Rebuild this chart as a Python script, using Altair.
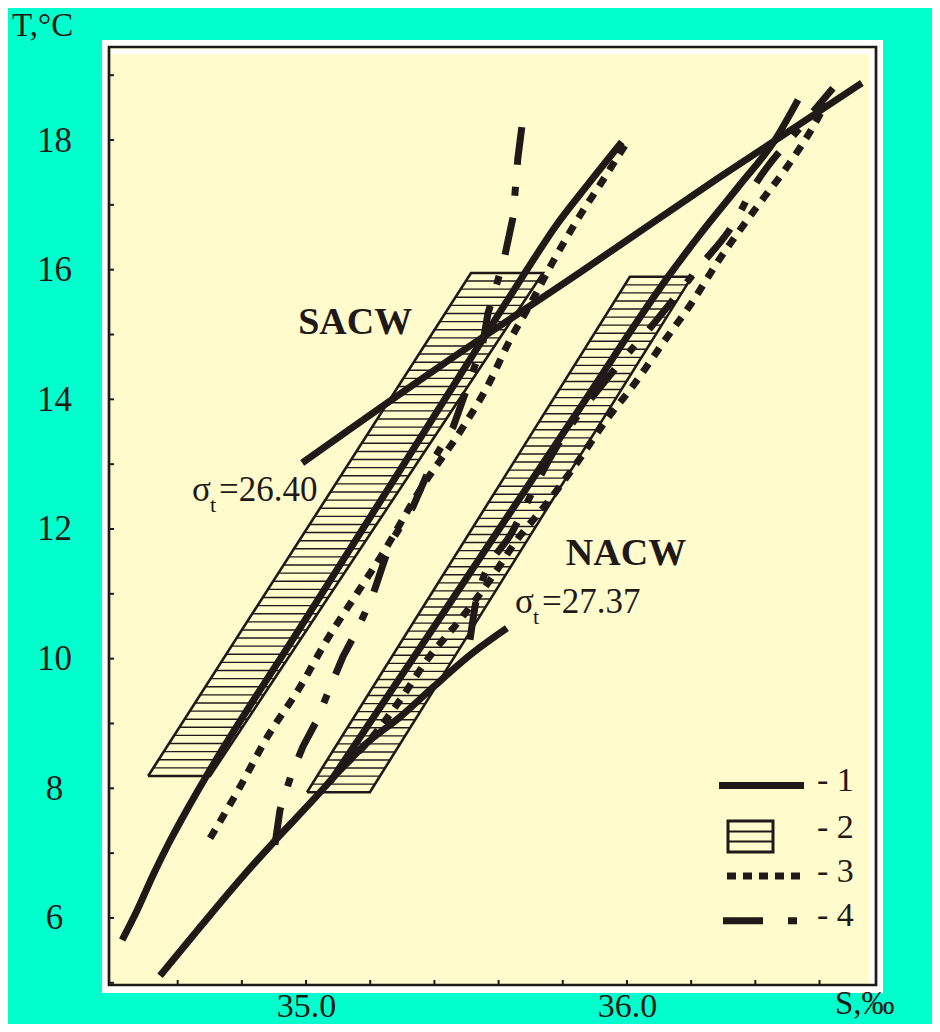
import altair as alt
import numpy as np
import pandas as pd

INK = "#1f1a17"
FONT = "Liberation Serif"
TEAL = "#00FFCC"
YELLOW = "#FFFBCC"

# ---------------- axes ----------------
S_DOMAIN = [34.386, 36.776]
T_DOMAIN = [4.966, 19.435]
S_TICKS = [34.6, 34.8, 35.0, 35.2, 35.4, 35.6, 35.8, 36.0, 36.2, 36.4, 36.6]
S_LABELS = [35.0, 36.0]
T_TICKS = [5, 6, 7, 8, 9, 10, 11, 12, 13, 14, 15, 16, 17, 18, 19]
T_LABELS = [6, 8, 10, 12, 14, 16, 18]

# ---------------- curves (S, T) ----------------
# 1 - solid T-S curves
sacw1_S = [34.427, 34.470, 34.526, 34.573, 34.629, 34.692, 34.981, 35.293, 35.551, 35.682, 35.776, 35.879, 35.984]
sacw1_T = [5.66, 6.08, 6.69, 7.16, 7.67, 8.21, 10.47, 12.91, 14.93, 15.95, 16.66, 17.32, 17.97]
nacw1_S = [35.075, 35.330, 35.579, 35.850, 36.128, 36.227, 36.352, 36.461, 36.533]
nacw1_T = [8.10, 9.98, 11.83, 13.84, 15.89, 16.54, 17.31, 18.00, 18.62]
# isopycnals
iso2640_S = [34.988, 35.417, 35.854, 36.290, 36.732]
iso2640_T = [13.02, 14.51, 15.96, 17.43, 18.88]
iso2737_S = [34.545, 34.670, 34.794, 34.897, 35.022, 35.106, 35.190, 35.293, 35.396, 35.520, 35.626]
iso2737_T = [5.11, 5.86, 6.59, 7.16, 7.82, 8.28, 8.70, 9.10, 9.56, 10.09, 10.47]
# 3 - dotted
sacw3_S = [34.701, 34.794, 34.879, 34.981, 35.065, 35.159, 35.240, 35.355, 35.489, 35.564, 35.636, 35.698, 35.769, 35.854, 35.916, 35.994]
sacw3_T = [7.23, 8.02, 8.79, 9.56, 10.29, 11.01, 11.63, 12.60, 13.57, 14.19, 14.92, 15.46, 16.12, 16.84, 17.31, 17.92]
nacw3_S = [35.121, 35.199, 35.293, 35.377, 35.480, 35.573, 35.657, 35.751, 35.844, 35.931, 36.025, 36.112, 36.202, 36.280, 36.414, 36.498, 36.592, 36.620]
nacw3_T = [8.36, 8.75, 9.36, 9.98, 10.60, 11.21, 11.83, 12.40, 13.02, 13.65, 14.25, 14.87, 15.49, 16.10, 17.03, 17.58, 18.31, 18.57]
# 4 - dash-dot
sacw4_S = [34.903, 34.919, 34.956, 34.991, 35.034, 35.075, 35.115, 35.159, 35.206, 35.262, 35.333, 35.396, 35.458, 35.511, 35.551, 35.567, 35.595, 35.620, 35.645, 35.660, 35.676]
sacw4_T = [7.13, 7.67, 8.24, 8.65, 9.05, 9.56, 10.03, 10.44, 10.95, 11.78, 12.34, 13.06, 13.57, 14.30, 14.87, 15.33, 15.79, 16.23, 16.81, 17.72, 18.34]
nacw4_S = [35.511, 35.533, 35.645, 35.769, 35.953, 36.087, 36.218, 36.336, 36.393, 36.539, 36.642]
nacw4_T = [10.29, 10.95, 11.98, 13.17, 14.41, 15.19, 16.00, 16.74, 17.26, 18.19, 18.80]

# 2 - hatched water-mass bands (parallelograms)
band_names = ["SACW", "NACW"]
band_T_bottom = [8.19, 7.94]
band_T_top = [15.95, 15.89]
band_S_bottom_left = [34.508, 35.003]
band_S_bottom_right = [34.701, 35.199]
band_S_top_left = [35.514, 36.009]
band_S_top_right = [35.738, 36.202]
HATCH_STEP = 0.125

# labels
mass_labels = ["SACW", "NACW"]
mass_label_S = [35.153, 35.997]
mass_label_T = [15.01, 11.45]
sigma_values = ["=26.40", "=27.37"]
sigma_S = [34.645, 35.651]
sigma_T = [12.43, 10.70]

legend_labels = ["- 1", "- 2", "- 3", "- 4"]

W, H = 767, 938

xs = alt.Scale(domain=S_DOMAIN, nice=False, zero=False)
ys = alt.Scale(domain=T_DOMAIN, nice=False, zero=False)
xaxis = alt.Axis(values=S_LABELS, format=".1f", domain=False, ticks=False, tickSize=0, grid=False,
                 labelFont=FONT, labelFontSize=34, labelColor=INK, labelPadding=31,
                 labelBaseline="alphabetic", labelFlush=False)
yaxis = alt.Axis(values=T_LABELS, format="d", domain=False, ticks=False, tickSize=0, grid=False,
                 labelFont=FONT, labelFontSize=35, labelColor=INK, labelPadding=55,
                 labelAlign="center", labelBaseline="middle")


def X(field="S"):
    return alt.X(f"{field}:Q", scale=xs, axis=xaxis, title=None)


def Y(field="T"):
    return alt.Y(f"{field}:Q", scale=ys, axis=yaxis, title=None)


one = pd.DataFrame({"k": [0]})


def px_rect(x1, x2, y1, y2, **kw):
    return alt.Chart(one).mark_rect(**kw).encode(
        x=alt.value(x1), x2=alt.value(x2), y=alt.value(y1), y2=alt.value(y2))


def px_rule(x1, x2, y, **kw):
    return alt.Chart(one).mark_rule(**kw).encode(
        x=alt.value(x1), x2=alt.value(x2), y=alt.value(y))


def px_text(x, y, text, **kw):
    return alt.Chart(one).mark_text(text=text, font=FONT, color=INK, **kw).encode(
        x=alt.value(x), y=alt.value(y))


def curve(S, T, interp="monotone", **kw):
    df = pd.DataFrame({"S": S, "T": T, "i": range(len(S))})
    return alt.Chart(df).mark_line(color=INK, strokeWidth=7, strokeCap="butt",
                                   strokeJoin="round", interpolate=interp, **kw).encode(
        x=X(), y=Y(), order="i:Q")


layers = []
# frame: white border, yellow plot, inner white strips, black frame
layers.append(px_rect(-7, W + 7, -7, H + 8, color="white"))
layers.append(px_rect(0, W, 0, H, color=YELLOW))
layers.append(px_rect(2, W - 2, 2, 7, color="white"))
layers.append(px_rect(W - 7, W - 1, 2, H - 1, color="white"))
layers.append(px_rect(0, W, 0, H, filled=False, color=INK, strokeWidth=2.7))

# inward ticks
xt = pd.DataFrame({"S": S_TICKS})
layers.append(alt.Chart(xt).mark_rule(color=INK, strokeWidth=2).encode(
    x=X(), y=alt.value(H - 5), y2=alt.value(H)))
yt = pd.DataFrame({"T": T_TICKS})
layers.append(alt.Chart(yt).mark_rule(color=INK, strokeWidth=2).encode(
    y=Y(), x=alt.value(0), x2=alt.value(5)))

# hatched bands
hatch_rows, outline_rows = [], []
for b in range(len(band_names)):
    tb, tt = band_T_bottom[b], band_T_top[b]
    n = int(round((tt - tb) / HATCH_STEP))
    for t in np.linspace(tb, tt, n + 1):
        f = (t - tb) / (tt - tb)
        s1 = band_S_bottom_left[b] + f * (band_S_top_left[b] - band_S_bottom_left[b])
        s2 = band_S_bottom_right[b] + f * (band_S_top_right[b] - band_S_bottom_right[b])
        hatch_rows.append({"S1": s1, "S2": s2, "T": t})
    poly = [(band_S_bottom_left[b], tb), (band_S_bottom_right[b], tb),
            (band_S_top_right[b], tt), (band_S_top_left[b], tt), (band_S_bottom_left[b], tb)]
    for i, (s, t) in enumerate(poly):
        outline_rows.append({"band": band_names[b], "S": s, "T": t, "i": i})
hatch = pd.DataFrame(hatch_rows)
outline = pd.DataFrame(outline_rows)
layers.append(alt.Chart(hatch).mark_rule(color=INK, strokeWidth=1.4).encode(
    x=X("S1"), x2="S2:Q", y=Y()))
layers.append(alt.Chart(outline).mark_line(color=INK, strokeWidth=2.6, strokeJoin="miter").encode(
    x=X(), y=Y(), detail="band:N", order="i:Q"))

# curves
DOT = [10, 9]
DASHDOT = [38, 22, 9, 22]
layers.append(curve(sacw3_S, sacw3_T, strokeDash=DOT))
layers.append(curve(nacw3_S, nacw3_T, strokeDash=DOT))
layers.append(curve(sacw4_S, sacw4_T, interp="linear", strokeDash=DASHDOT))
layers.append(curve(nacw4_S, nacw4_T, strokeDash=DASHDOT))
layers.append(curve(iso2640_S, iso2640_T))
layers.append(curve(iso2737_S, iso2737_T))
layers.append(curve(sacw1_S, sacw1_T))
layers.append(curve(nacw1_S, nacw1_T))

# water-mass labels
ml = pd.DataFrame({"S": mass_label_S, "T": mass_label_T, "txt": mass_labels})
layers.append(alt.Chart(ml).mark_text(font=FONT, fontSize=38, fontWeight="bold", color=INK,
                                      align="center", baseline="alphabetic").encode(
    x=X(), y=Y(), text="txt:N"))
# sigma-t labels
sg = pd.DataFrame({"S": sigma_S, "T": sigma_T, "txt": sigma_values})
layers.append(alt.Chart(sg).mark_text(text="σ", font=FONT, fontSize=35, color=INK,
                                      align="left", baseline="alphabetic").encode(x=X(), y=Y()))
layers.append(alt.Chart(sg).mark_text(text="t", font=FONT, fontSize=22, color=INK,
                                      align="left", baseline="alphabetic", dx=18, dy=11).encode(x=X(), y=Y()))
layers.append(alt.Chart(sg).mark_text(font=FONT, fontSize=35, color=INK,
                                      align="left", baseline="alphabetic", dx=27).encode(
    x=X(), y=Y(), text="txt:N"))

# legend
layers.append(px_rule(610, 695, 738.5, color=INK, strokeWidth=7))
layers.append(px_rect(619, 664, 774, 805, filled=False, color=INK, strokeWidth=3))
layers.append(px_rule(619, 664, 784.5, color=INK, strokeWidth=2))
layers.append(px_rule(619, 664, 794.5, color=INK, strokeWidth=2))
layers.append(px_rule(618, 691, 829, color=INK, strokeWidth=7, strokeDash=[9, 7]))
layers.append(px_rule(614, 688, 873.7, color=INK, strokeWidth=7, strokeDash=[40, 25, 9, 100]))
for lab, yb in zip(legend_labels, [744, 791, 835, 879]):
    layers.append(px_text(708, yb, lab, fontSize=34, align="left", baseline="alphabetic"))

# axis titles
layers.append(px_text(-97, -11, "T,°C", fontSize=33, align="left", baseline="alphabetic"))
layers.append(px_text(726, 967, "S,‰", fontSize=33, align="left", baseline="alphabetic"))

chart = alt.layer(*layers).properties(
    width=W, height=H,
    background=TEAL,
    autosize=alt.AutoSizeParams(type="none"),
    padding={"left": 101, "top": 39, "right": 56, "bottom": 39},
).configure_view(stroke="transparent")

chart.save("out.html", embed_options={"renderer": "svg", "actions": False})
